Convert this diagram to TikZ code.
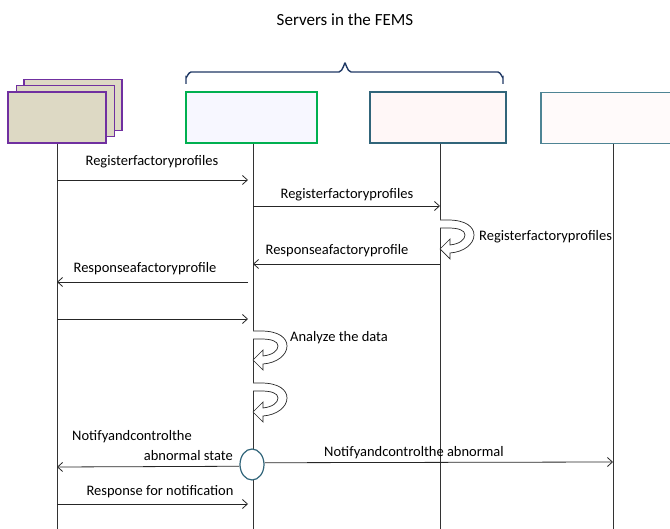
\documentclass[tikz,border=0pt]{standalone}
\usepackage{fontspec}
\setmainfont{Carlito}
\usetikzlibrary{arrows.meta, shapes.geometric}

\definecolor{clientline}{HTML}{7030A0}
\definecolor{clientfill}{HTML}{DDD9C4}
\definecolor{greenline}{HTML}{00B050}
\definecolor{tealline}{HTML}{31657A}
\definecolor{paleteal}{HTML}{4E8494}
\definecolor{bracecol}{HTML}{1F3864}

\tikzset{
  turnarrow/.pic={
    \draw[black!85, fill=white, line width=0.7pt]
      (0,0) -- (8,0) .. controls (26,0) and (34,7) .. (34,15)
      .. controls (34,24) and (24,32) .. (10,33) -- (10,39) -- (0,29) -- (10,19) -- (10,25)
      .. controls (19,24) and (25,20) .. (25,15) .. controls (25,10) and (18,8) .. (8,8) -- (0,8);
  }
}

\begin{document}
\begin{tikzpicture}[x=1pt, y=-1pt,
  every node/.style={font=\fontsize{14.5}{16}\selectfont, inner sep=0pt},
  client/.style={draw=clientline, fill=clientfill, line width=1.2pt, minimum width=98pt, minimum height=51pt},
  server/.style={line width=1.2pt, minimum height=51pt},
  life/.style={black!80, line width=0.8pt},
  msg/.style={black!85, line width=0.8pt, -{Straight Barb[length=5pt, width=9pt]}}]
\useasboundingbox (0,0) rectangle (670,529);

\node (title) at (345,20) {\fontsize{17}{19}\selectfont Servers in the FEMS};
\draw[bracecol, line width=1.4pt] (186,84) -- (186,77) to[out=-90, in=180] (191,72) -- (339,72)
  to[out=0, in=90] (345,64) to[out=90, in=180] (351,72) -- (498,72) to[out=0, in=-90] (503,77) -- (503,84);

\node[client] (back) at (73,105) {};
\node[client] (mid) at (65.5,111) {};
\node[client] (front) at (57,117.5) {};
\node[server, draw=greenline, fill=blue!3, minimum width=131pt] (fems) at (251.5,117.5) {};
\node[server, draw=tealline, fill=red!3, minimum width=136pt] (store) at (438,117.5) {};
\node[server, draw=paleteal, fill=red!2, minimum width=140pt] (ctrl) at (611,118) {};

\coordinate (clientend) at (57,529);
\coordinate (femsend) at (253,529);
\coordinate (storeend) at (440,529);
\coordinate (ctrlend) at (613,529);
\draw[life] (front.south) -- (clientend);
\draw[life] (fems.south -| femsend) -- (femsend);
\draw[life] (store.south -| storeend) -- (storeend);
\draw[life] (ctrl.south -| ctrlend) -- (ctrlend);

\coordinate (a1) at (57,180);  \coordinate (b1) at (248,180);
\coordinate (a2) at (253,206); \coordinate (b2) at (440,206);
\coordinate (a4) at (440,264); \coordinate (b4) at (253,264);
\coordinate (a5) at (248,282); \coordinate (b5) at (57,282);
\coordinate (a6) at (57,319);  \coordinate (b6) at (248,319);
\coordinate (a9) at (57,504);  \coordinate (b9) at (248,504);
\coordinate (left7) at (57,467);
\coordinate (right7) at (613,462);

\draw[msg] (a1) -- (b1);
\node (reg1) at (152,162) {Registerfactoryprofiles};
\draw[msg] (a2) -- (b2);
\node (reg2) at (347,195) {Registerfactoryprofiles};
\pic at (440,220) {turnarrow};
\node[anchor=west] (reg3) at (479,237) {Registerfactoryprofiles};
\draw[msg] (a4) -- (b4);
\node (resp1) at (337,251) {Responseafactoryprofile};
\draw[msg] (a5) -- (b5);
\node (resp2) at (145,269) {Responseafactoryprofile};
\draw[msg] (a6) -- (b6);
\pic at (253,331) {turnarrow};
\node[anchor=west] (analyze) at (290,338) {Analyze the data};
\pic at (253,383) {turnarrow};

\node[ellipse, draw=tealline, fill=white, line width=1.2pt, minimum width=24pt, minimum height=31pt] (notify) at (252,464.5) {};
\draw[msg] (notify.188) -- (left7);
\draw[msg] (notify.8) -- (right7);
\node[anchor=west] (note1) at (72,437) {Notifyandcontrolthe};
\node[anchor=east] (note2) at (233,456) {abnormal state};
\node (note3) at (414,453) {Notifyandcontrolthe abnormal};
\draw[msg] (a9) -- (b9);
\node (answer) at (160,492) {Response for notification};
\end{tikzpicture}
\end{document}
